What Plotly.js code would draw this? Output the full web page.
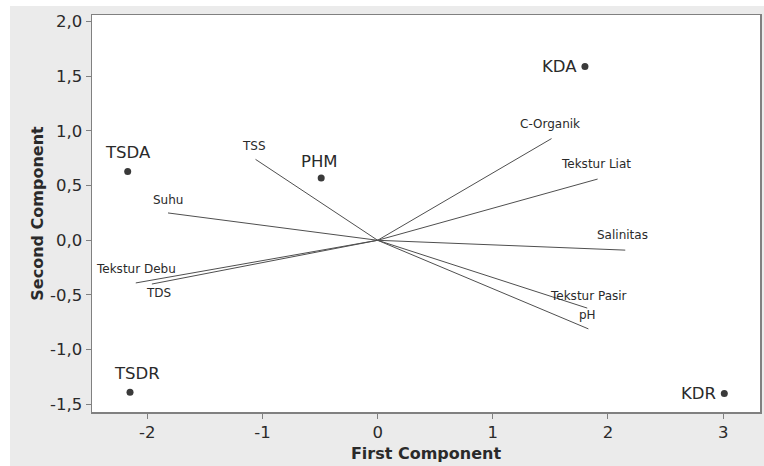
<!DOCTYPE html>
<html>
<head>
<meta charset="utf-8">
<script src="https://cdn.plot.ly/plotly-3.0.1.min.js"></script>
<style>
  html, body { margin: 0; padding: 0; background: #ffffff; }
  #chart { position: absolute; left: 10px; top: 6px; width: 754px; height: 460px; }
</style>
</head>
<body>
<div id="chart"></div>
<script>
// ---- Data ----
const obsNames = ["TSDA", "PHM", "KDA", "TSDR", "KDR"];
const obsPC1 = [-2.17, -0.49, 1.80, -2.15, 3.01];
const obsPC2 = [0.63, 0.57, 1.59, -1.39, -1.40];

const varNames = ["TSS", "Suhu", "C-Organik", "Tekstur Liat", "Salinitas", "Tekstur Pasir", "pH", "Tekstur Debu", "TDS"];
const varPC1 = [-1.06, -1.82, 1.51, 1.91, 2.15, 1.82, 1.83, -2.10, -1.96];
const varPC2 = [0.74, 0.25, 0.93, 0.56, -0.09, -0.62, -0.81, -0.39, -0.40];

const xTickVals = [-2, -1, 0, 1, 2, 3];
const xTickText = ["-2", "-1", "0", "1", "2", "3"];
const yTickVals = [-1.5, -1.0, -0.5, 0.0, 0.5, 1.0, 1.5, 2.0];
const yTickText = ["-1,5", "-1,0", "-0,5", "0,0", "0,5", "1,0", "1,5", "2,0"];

// ---- Styling (label placement offsets in pixels) ----
const obsLabelStyle = [
  {xshift: 0, yshift: 19, xanchor: "center"},
  {xshift: -2, yshift: 16, xanchor: "center"},
  {xshift: -6, yshift: 0, xanchor: "right"},
  {xshift: 7, yshift: 19, xanchor: "center"},
  {xshift: -6, yshift: 0, xanchor: "right"}
];
const varLabelStyle = [
  {xshift: -2, yshift: 13},
  {xshift: 0, yshift: 13},
  {xshift: -2, yshift: 15},
  {xshift: -2, yshift: 15},
  {xshift: -3, yshift: 15},
  {xshift: 1, yshift: 12},
  {xshift: -1, yshift: 14},
  {xshift: 0, yshift: 14},
  {xshift: 7, yshift: -9}
];

const FONT = "DejaVu Sans, Verdana, sans-serif";

const traces = [];
varNames.forEach((n, i) => {
  traces.push({
    type: "scatter", mode: "lines",
    x: [0, varPC1[i]], y: [0, varPC2[i]],
    line: {color: "#4f4f4f", width: 1},
    hoverinfo: "skip", showlegend: false
  });
});
traces.push({
  type: "scatter", mode: "markers",
  x: obsPC1, y: obsPC2, text: obsNames,
  marker: {color: "#3a3a3a", size: 7},
  showlegend: false
});

const annotations = [];
obsNames.forEach((n, i) => {
  const s = obsLabelStyle[i];
  annotations.push({
    x: obsPC1[i], y: obsPC2[i], xref: "x", yref: "y",
    text: n, showarrow: false,
    xanchor: s.xanchor, yanchor: "middle",
    xshift: s.xshift, yshift: s.yshift,
    font: {family: FONT, size: 16.5, color: "#2a2a2a"}
  });
});
varNames.forEach((n, i) => {
  const s = varLabelStyle[i];
  annotations.push({
    x: varPC1[i], y: varPC2[i], xref: "x", yref: "y",
    text: n, showarrow: false,
    xanchor: "center", yanchor: "middle",
    xshift: s.xshift, yshift: s.yshift,
    font: {family: FONT, size: 12, color: "#2a2a2a"}
  });
});

const axisCommon = {
  showgrid: false, zeroline: false,
  showline: true, mirror: true, linecolor: "#808080", linewidth: 1.5,
  ticks: "outside", ticklen: 5, tickcolor: "#808080", tickwidth: 1,
  tickfont: {family: FONT, size: 16.5, color: "#2a2a2a"},
  fixedrange: true
};

const layout = {
  width: 754, height: 460,
  paper_bgcolor: "#ebebeb",
  plot_bgcolor: "#ffffff",
  margin: {l: 82, r: 4, t: 9, b: 54},
  showlegend: false,
  xaxis: Object.assign({}, axisCommon, {
    range: [-2.48, 3.32],
    tickmode: "array", tickvals: xTickVals, ticktext: xTickText,
    title: {text: "First Component", font: {family: FONT, size: 16, color: "#2a2a2a", weight: "bold"}, standoff: 6}
  }),
  yaxis: Object.assign({}, axisCommon, {
    range: [-1.57, 2.06],
    tickmode: "array", tickvals: yTickVals, ticktext: yTickText,
    title: {text: "Second Component", font: {family: FONT, size: 16, color: "#2a2a2a", weight: "bold"}, standoff: 2}
  }),
  annotations: annotations
};

Plotly.newPlot("chart", traces, layout, {displayModeBar: false, staticPlot: true});
</script>
</body>
</html>
